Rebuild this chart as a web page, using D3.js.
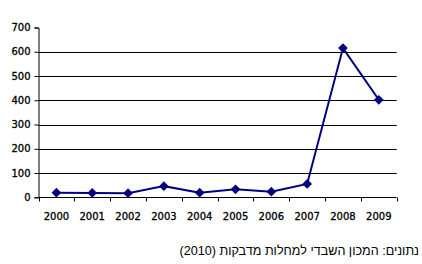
<!DOCTYPE html>
<html><head><meta charset="utf-8">
<script src="https://cdn.jsdelivr.net/npm/d3@7"></script>
<style>
html,body{margin:0;padding:0;background:#fff;}
svg{display:block;}
</style></head>
<body>
<svg id="c" width="422" height="264"></svg>
<script>
const years = ["2000","2001","2002","2003","2004","2005","2006","2007","2008","2009"];
const values = [19, 18, 17, 46, 19, 33, 23, 55, 615, 402];
const yTicks = [0,100,200,300,400,500,600,700];
const caption = "נתונים: המכון השבדי למחלות מדבקות (2010)";

const svg = d3.select("#c");
const pLeft = 38.5, pRight = 396.7, pTop = 27.5, pBottom = 197.3;

const x = d3.scaleBand().domain(years).range([pLeft, pRight]);
const y = d3.scaleLinear().domain([0, 700]).range([pBottom, pTop]);

// gridlines
svg.append("g").selectAll("line").data(yTicks.filter(d => d > 0 && d < 700)).join("line")
  .attr("x1", pLeft).attr("x2", pRight)
  .attr("y1", d => Math.round(y(d)) + 0.5).attr("y2", d => Math.round(y(d)) + 0.5)
  .attr("stroke", "#000").attr("stroke-width", 1);

// y axis
const yAxis = svg.append("g").attr("transform", `translate(${pLeft},0)`)
  .call(d3.axisLeft(y).tickValues(yTicks).tickSize(4).tickPadding(4));
yAxis.select(".domain").attr("stroke", "#000");
yAxis.selectAll("text").attr("font-family", "DejaVu Sans").attr("font-size", 10)
  .attr("fill", "#000").attr("stroke", "#000").attr("stroke-width", 0.3);

// x axis
const xAxis = svg.append("g").attr("transform", `translate(0,${Math.round(pBottom)+0.5})`)
  .call(d3.axisBottom(x).tickSize(0).tickPadding(15));
xAxis.select(".domain").attr("stroke", "#000").attr("d", `M${pLeft},0H${pRight}`);
xAxis.selectAll("text").attr("font-family", "DejaVu Sans").attr("font-size", 10)
  .attr("fill", "#000").attr("stroke", "#000").attr("stroke-width", 0.3);
// boundary ticks
const bounds = years.map(d => x(d)).concat([pRight]);
xAxis.append("g").selectAll("line").data(bounds).join("line")
  .attr("x1", d => Math.round(d) + 0.5).attr("x2", d => Math.round(d) + 0.5)
  .attr("y1", 0).attr("y2", 4).attr("stroke", "#000");

// line
const cx = d => x(d) + x.bandwidth() / 2;
const line = d3.line().x((d, i) => cx(years[i])).y(d => y(d));
svg.append("path").datum(values).attr("d", line)
  .attr("fill", "none").attr("stroke", "#000080").attr("stroke-width", 2);

// markers
svg.append("g").selectAll("path").data(values).join("path")
  .attr("transform", (d, i) => `translate(${cx(years[i])},${y(d)})`)
  .attr("d", d3.symbol(d3.symbolDiamond2, 60))
  .attr("fill", "#000080");

// caption
svg.append("text").attr("x", 419).attr("y", 255)
  .attr("direction", "rtl").attr("text-anchor", "start")
  .attr("font-family", "Liberation Sans, Arial").attr("font-size", 12.6).attr("fill", "#000")
  .text(caption);
</script>
</body></html>
